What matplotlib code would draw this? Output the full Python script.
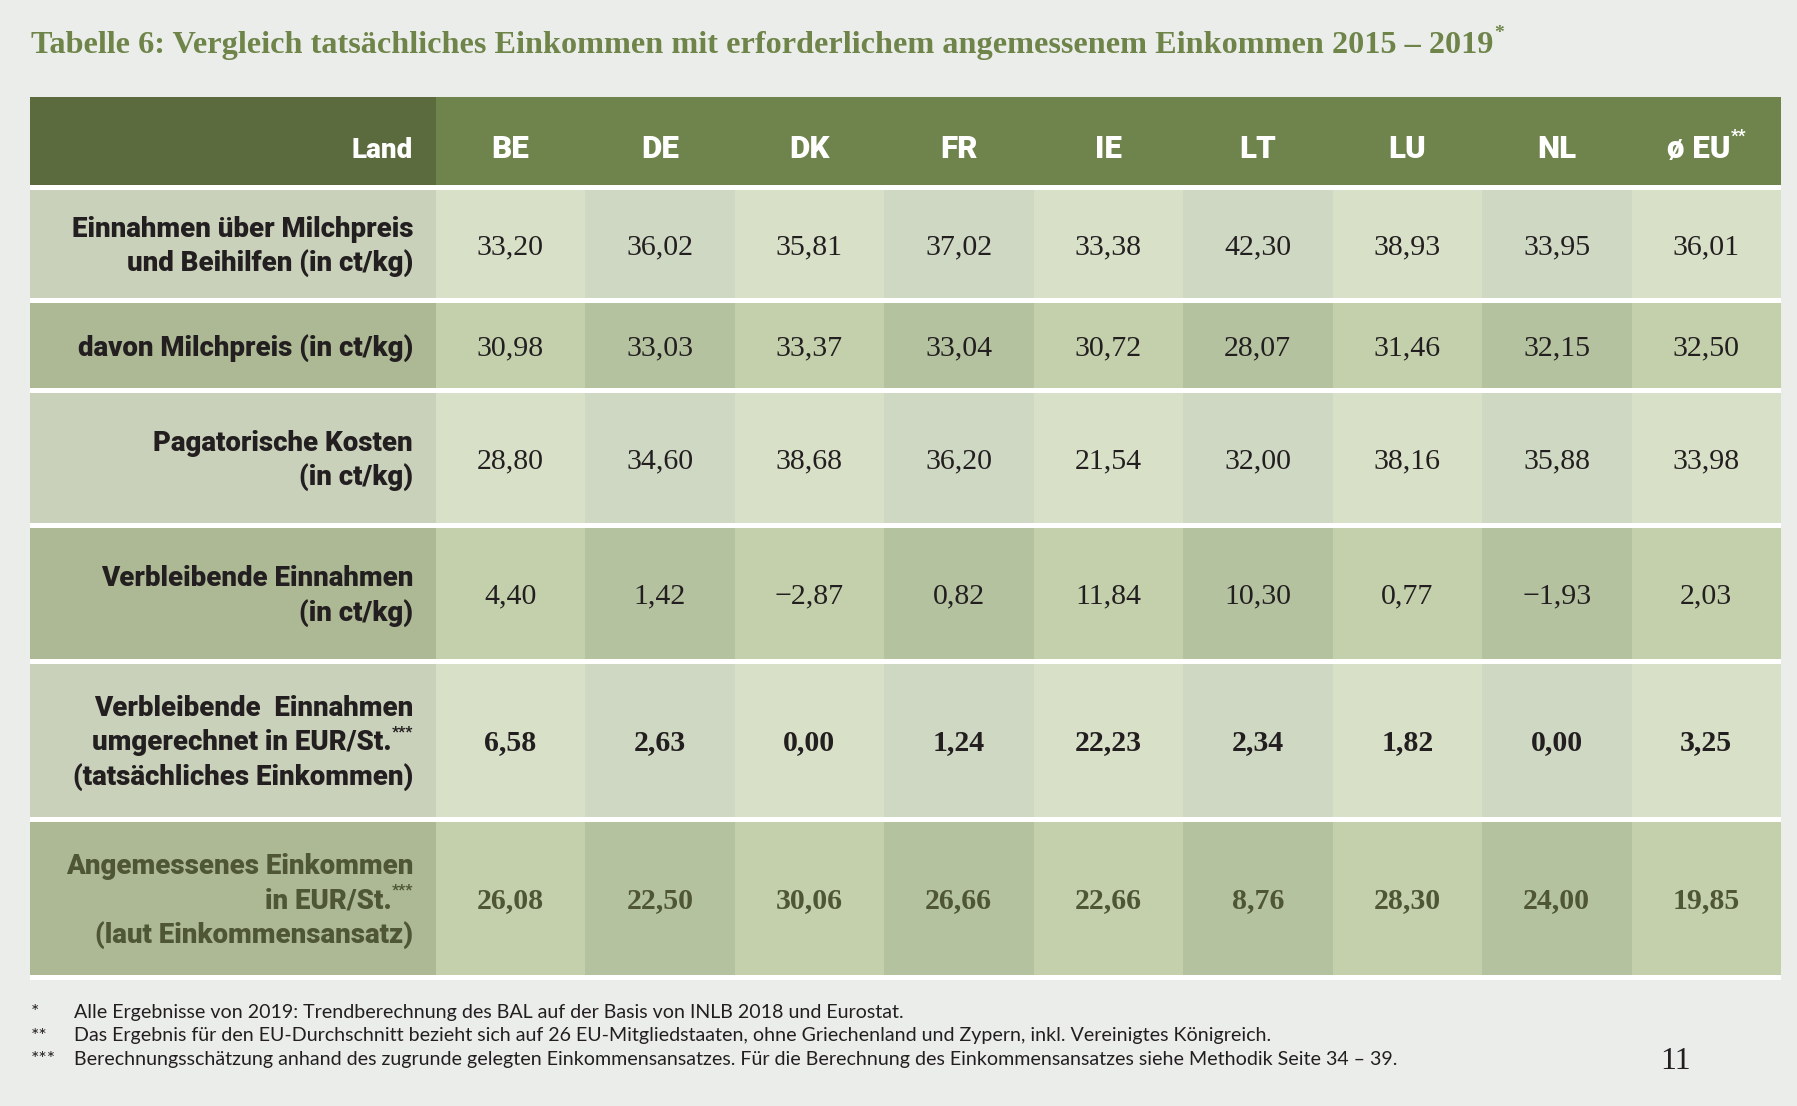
import os
import matplotlib
matplotlib.use('Agg')
import matplotlib.pyplot as plt
from matplotlib.patches import Rectangle
from matplotlib import font_manager

# Daten
laender = ['BE', 'DE', 'DK', 'FR', 'IE', 'LT', 'LU', 'NL', 'ø EU']
einnahmen = [33.20, 36.02, 35.81, 37.02, 33.38, 42.30, 38.93, 33.95, 36.01]
milchpreis = [30.98, 33.03, 33.37, 33.04, 30.72, 28.07, 31.46, 32.15, 32.50]
kosten = [28.80, 34.60, 38.68, 36.20, 21.54, 32.00, 38.16, 35.88, 33.98]
verbleibend = [4.40, 1.42, -2.87, 0.82, 11.84, 10.30, 0.77, -1.93, 2.03]
verbleibend_eur = [6.58, 2.63, 0.00, 1.24, 22.23, 2.34, 1.82, 0.00, 3.25]
angemessen = [26.08, 22.50, 30.06, 26.66, 22.66, 8.76, 28.30, 24.00, 19.85]

zeilen_werte = [einnahmen, milchpreis, kosten, verbleibend, verbleibend_eur, angemessen]
zeilen_label = [
    ['Einnahmen über Milchpreis', 'und Beihilfen (in ct/kg)'],
    ['davon Milchpreis (in ct/kg)'],
    ['Pagatorische Kosten', '(in ct/kg)'],
    ['Verbleibende Einnahmen', '(in ct/kg)'],
    ['Verbleibende  Einnahmen', 'umgerechnet in EUR/St.|***', '(tatsächliches Einkommen)'],
    ['Angemessenes Einkommen', 'in EUR/St.|***', '(laut Einkommensansatz)'],
]

titel = 'Tabelle 6: Vergleich tatsächliches Einkommen mit erforderlichem angemessenem Einkommen 2015 – 2019'
fussnoten = [
    ('*', 'Alle Ergebnisse von 2019: Trendberechnung des BAL auf der Basis von INLB 2018 und Eurostat.'),
    ('**', 'Das Ergebnis für den EU-Durchschnitt bezieht sich auf 26 EU-Mitgliedstaaten, ohne Griechenland und Zypern, inkl. Vereinigtes Königreich.'),
    ('***', 'Berechnungsschätzung anhand des zugrunde gelegten Einkommensansatzes. Für die Berechnung des Einkommensansatzes siehe Methodik Seite 34 – 39.'),
]

# Layout / Farben
BG = '#ebedea'
TITEL_FARBE = '#6e8449'
KOPF_LABEL = '#5b6b3e'
KOPF = '#6f844c'
HELL_LABEL, HELL_A, HELL_B = '#c9d1ba', '#d8e1c8', '#cfd8c3'
DUNKEL_LABEL, DUNKEL_A, DUNKEL_B = '#adb994', '#c3d0ab', '#b4c29f'
TEXT = '#231f20'
OLIV_TEXT = '#4f5636'

x0, x_label, col_w = 30, 435.5, 149.5
x1 = x_label + col_w * len(laender)
kopf = (97, 185)
zeilen_y = [(190, 298), (303, 388), (393, 523), (528, 659), (664, 817), (822, 975)]

SERIF = 'Liberation Serif'

# dicke, schmale Sans-Schrift suchen
alle = font_manager.findSystemFonts()
def finde(*namen):
    for n in namen:
        for f in alle:
            if os.path.basename(f).lower().startswith(n.lower()):
                return f
    return None

DICK = finde('Roboto-Black.', 'Lato-Black.', 'Inter-Black.', 'NotoSans-Black.',
             'OpenSans-ExtraBold.', 'Roboto-Bold.')


def sans_dick(size):
    if DICK:
        return dict(fontproperties=font_manager.FontProperties(fname=DICK, size=size))
    return dict(family='Lato', fontweight='bold', fontsize=size)


def zahl(v):
    s = f'{abs(v):.2f}'.replace('.', ',')
    return ('−' + s) if v < 0 else s


fig = plt.figure(figsize=(17.97, 11.06), dpi=100)
fig.patch.set_facecolor(BG)
ax = fig.add_axes([0, 0, 1, 1])
ax.set_xlim(0, 1797)
ax.set_ylim(1106, 0)
ax.axis('off')
r = fig.canvas.get_renderer()


def breite(t):
    return t.get_window_extent(renderer=r).width


# Titel
t = ax.text(31, 53, titel, fontsize=23.2, fontweight='bold', family=SERIF, color=TITEL_FARBE, va='baseline')
ax.text(31 + breite(t) + 1, 38, '*', fontsize=14, fontweight='bold', family=SERIF, color=TITEL_FARBE, va='baseline')

# weisser Hintergrund der Tabelle (Trennlinien)
ax.add_patch(Rectangle((x0, kopf[1]), x1 - x0, zeilen_y[-1][1] + 5 - kopf[1], color='white', lw=0))

# Kopfzeile
ax.add_patch(Rectangle((x0, kopf[0]), x_label - x0, kopf[1] - kopf[0], color=KOPF_LABEL, lw=0))
ax.add_patch(Rectangle((x_label, kopf[0]), x1 - x_label, kopf[1] - kopf[0], color=KOPF, lw=0))
ax.text(413, 158, 'Land', color='white', ha='right', va='baseline', **sans_dick(20))
for i, land in enumerate(laender):
    cx = x_label + col_w * (i + 0.5)
    if land == 'ø EU':
        t = ax.text(cx, 158, land, color='white', va='baseline', **sans_dick(22.5))
        s = ax.text(0, 141, '**', color='white', va='baseline', **sans_dick(12))
        w1, w2 = breite(t), breite(s)
        start = cx - (w1 + w2) / 2
        t.set_x(start)
        s.set_x(start + w1 + 1)
    else:
        ax.text(cx, 158, land, color='white', ha='center', va='baseline', **sans_dick(22.5))

# Datenzeilen
for z, (werte, label) in enumerate(zip(zeilen_werte, zeilen_label)):
    ya, yb = zeilen_y[z]
    hell = z % 2 == 0
    lab_c = HELL_LABEL if hell else DUNKEL_LABEL
    ca, cb = (HELL_A, HELL_B) if hell else (DUNKEL_A, DUNKEL_B)
    ax.add_patch(Rectangle((x0, ya), x_label - x0, yb - ya, color=lab_c, lw=0))
    mitte = (ya + yb) / 2
    fett = z >= 4
    farbe = OLIV_TEXT if z == 5 else TEXT
    for i, v in enumerate(werte):
        xl = x_label + col_w * i
        ax.add_patch(Rectangle((xl, ya), col_w, yb - ya, color=ca if i % 2 == 0 else cb, lw=0))
        ax.text(xl + col_w / 2, mitte + 10, zahl(v), fontsize=21.5, family=SERIF,
                fontweight='bold' if fett else 'normal', color=farbe, ha='center', va='baseline')
    n = len(label)
    for k, zeile in enumerate(label):
        yl = mitte + (k - (n - 1) / 2) * 34.5 + 10
        if '|' in zeile:
            haupt, hoch = zeile.split('|')
            s = ax.text(413, yl - 14, hoch, color=farbe, ha='right', va='baseline', **sans_dick(11))
            ax.text(413 - breite(s), yl, haupt, color=farbe, ha='right', va='baseline', **sans_dick(19.9))
        else:
            ax.text(413, yl, zeile, color=farbe, ha='right', va='baseline', **sans_dick(19.9))

# Fussnoten
for k, (stern, text) in enumerate(fussnoten):
    yb = 1018 + k * 23.5
    ax.text(31, yb, stern, fontsize=14.15, family='Lato', color=TEXT, va='baseline')
    ax.text(74.5, yb, text, fontsize=14.15, family='Lato', color=TEXT, va='baseline')

ax.text(1676, 1069, '11', fontsize=23, family=SERIF, color=TEXT, ha='center', va='baseline')

fig.savefig('out.png', dpi=100, facecolor=BG)
